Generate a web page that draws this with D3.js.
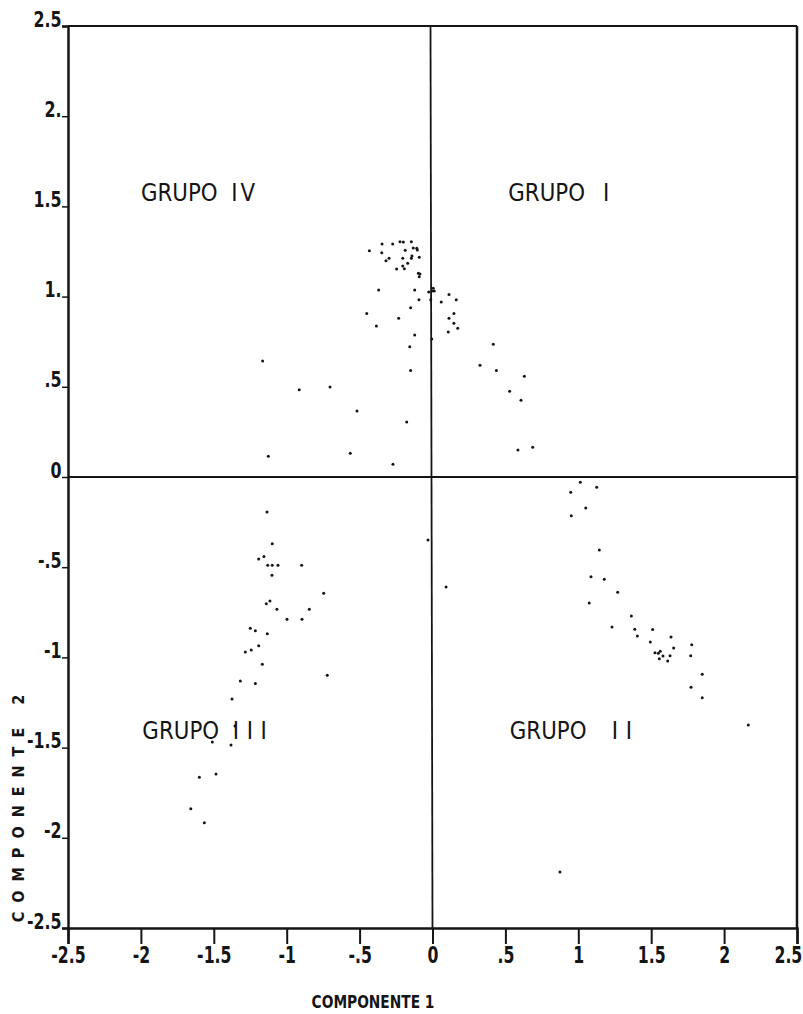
<!DOCTYPE html>
<html><head><meta charset="utf-8">
<script src="https://cdn.jsdelivr.net/npm/d3@7"></script>
<style>body{margin:0;background:#fff}svg{display:block}</style>
</head><body><svg id="c" width="803" height="1014"></svg>
<script>
// Component scores (Componente 1, Componente 2) by quadrant group
const grupoI = [
 [0.005,1.046],[0.012,1.031],[0.060,0.970],[0.113,1.011],[0.163,0.983],[0.147,0.907],
 [0.113,0.880],[0.147,0.852],[0.173,0.824],[0.108,0.804],[0.417,0.736],[0.326,0.619],
 [0.438,0.591],[0.630,0.558],[0.529,0.475],[0.607,0.425],[0.586,0.150],[0.687,0.165]
];
const grupoII = [
 [1.014,-0.029],[1.126,-0.057],[0.948,-0.085],[1.051,-0.172],[0.952,-0.215],[1.144,-0.405],
 [1.087,-0.553],[1.178,-0.567],[1.270,-0.639],[1.075,-0.698],[1.364,-0.771],[1.231,-0.831],
 [1.387,-0.844],[1.405,-0.881],[1.510,-0.846],[1.494,-0.915],[1.636,-0.887],[1.654,-0.948],
 [1.526,-0.974],[1.549,-0.977],[1.562,-0.966],[1.556,-1.007],[1.581,-0.992],[1.613,-1.020],
 [1.629,-0.991],[1.778,-0.930],[1.771,-0.991],[1.850,-1.094],[1.773,-1.166],[1.850,-1.223],
 [2.166,-1.375],[0.874,-2.190],[0.093,-0.610]
];
const grupoIII = [
 [-0.031,-0.349],[-1.135,-0.194],[-1.099,-0.370],[-1.156,-0.440],[-1.192,-0.455],[-1.130,-0.489],
 [-1.099,-0.489],[-1.060,-0.489],[-0.897,-0.489],[-1.101,-0.545],[-0.746,-0.645],[-1.115,-0.687],
 [-1.140,-0.702],[-1.067,-0.733],[-0.845,-0.733],[-0.998,-0.789],[-0.895,-0.789],[-1.250,-0.839],
 [-1.215,-0.852],[-1.133,-0.869],[-1.192,-0.935],[-1.243,-0.959],[-1.284,-0.970],[-1.167,-1.038],
 [-0.722,-1.099],[-1.318,-1.131],[-1.215,-1.144],[-1.375,-1.231],[-1.355,-1.380],[-1.510,-1.469],
 [-1.382,-1.486],[-1.485,-1.646],[-1.599,-1.665],[-1.658,-1.839],[-1.565,-1.916]
];
const grupoIV = [
 [-0.433,1.254],[-0.346,1.292],[-0.348,1.243],[-0.273,1.292],[-0.223,1.304],[-0.200,1.303],
 [-0.145,1.304],[-0.187,1.257],[-0.132,1.269],[-0.108,1.268],[-0.104,1.258],[-0.298,1.212],
 [-0.319,1.199],[-0.204,1.212],[-0.145,1.212],[-0.141,1.225],[-0.091,1.218],[-0.170,1.185],
 [-0.204,1.170],[-0.193,1.155],[-0.246,1.153],[-0.097,1.129],[-0.091,1.110],[-0.086,1.125],
 [-0.005,1.031],[-0.026,1.025],[-0.369,1.037],[-0.122,1.037],[-0.093,0.983],[-0.012,0.983],
 [-0.451,0.907],[-0.150,0.938],[-0.232,0.880],[-0.385,0.837],[-0.122,0.787],[-0.005,0.765],
 [-0.156,0.722],[-0.150,0.591],[-0.703,0.499],[-0.518,0.366],[-1.165,0.643],[-0.914,0.484],
 [-0.177,0.305],[-1.126,0.115],[-0.564,0.131],[-0.271,0.070]
];
const tickValues = [-2.5,-2,-1.5,-1,-0.5,0,0.5,1,1.5,2,2.5];
const xTickLabels = ["-2.5","-2","-1.5","-1","-.5","0",".5","1","1.5","2","2.5"];
const yTickLabels = ["-2.5","-2","-1.5","-1","-.5","0",".5","1.","1.5","2.","2.5"];
const groupNames = [["GRUPO","I"],["GRUPO","II"],["GRUPO","III"],["GRUPO","IV"]];
const xTitle = "COMPONENTE 1";
const yTitle = "COMPONENTE 2";

const svg = d3.select("#c");
const x = d3.scaleLinear([-2.5,2.5],[68,797]);
const y = d3.scaleLinear([-2.5,2.5],[928,26]);
const ink = "#151515";
const tickFont = "'DejaVu Sans Condensed','DejaVu Sans',sans-serif";

// frame
svg.append("line").attr("x1",x(-2.5)).attr("x2",x(2.5)).attr("y1",y(2.5)).attr("y2",y(2.5))
  .attr("stroke",ink).attr("stroke-width",2.2);
svg.append("line").attr("x1",x(2.5)).attr("x2",x(2.5)).attr("y1",y(2.5)).attr("y2",y(-2.5))
  .attr("stroke",ink).attr("stroke-width",2.5);
// center lines
svg.append("line").attr("x1",x(0)-2).attr("x2",x(0)).attr("y1",y(2.5)).attr("y2",y(-2.5))
  .attr("stroke",ink).attr("stroke-width",1.8);
svg.append("line").attr("x1",x(-2.5)).attr("x2",x(2.5)).attr("y1",y(0)).attr("y2",y(0))
  .attr("stroke",ink).attr("stroke-width",1.8);

// x axis
const gx = svg.append("g").attr("transform",`translate(0,${y(-2.5)})`)
  .call(d3.axisBottom(x).tickValues(tickValues).tickFormat((d,i)=>xTickLabels[i]).tickSize(16).tickPadding(3));
gx.select(".domain").attr("stroke",ink).attr("stroke-width",2.5);
gx.selectAll(".tick line").attr("stroke",ink).attr("stroke-width",2);
gx.selectAll(".tick text").attr("fill",ink).attr("font-family",tickFont).attr("font-weight","bold")
  .attr("font-size",23).attr("transform","scale(0.76,1)");
gx.selectAll(".tick text").filter(d=>d===2.5).attr("dx",-12);

// y axis
const gy = svg.append("g").attr("transform",`translate(${x(-2.5)},0)`)
  .call(d3.axisLeft(y).tickValues(tickValues).tickFormat((d,i)=>yTickLabels[i]).tickSize(6).tickPadding(2));
gy.select(".domain").attr("stroke",ink).attr("stroke-width",2.5);
gy.selectAll(".tick line").attr("stroke",ink).attr("stroke-width",1.5);
gy.selectAll(".tick text").attr("fill",ink).attr("font-family",tickFont).attr("font-weight","bold")
  .attr("font-size",22).attr("dy","0").attr("transform","scale(0.8,1)");

// points
const all = [grupoI,grupoII,grupoIII,grupoIV];
svg.append("g").selectAll("g").data(all).join("g")
  .selectAll("circle").data(d=>d).join("circle")
  .attr("cx",d=>x(d[0])).attr("cy",d=>y(d[1])).attr("r",1.5).attr("fill",ink);

// group labels
const labelPos = [[0.52,1.53,1.17,8],[0.53,-1.45,1.23,8],[-1.99,-1.45,-1.37,8],[-2.0,1.53,-1.38,3]];
const gl = svg.append("g").attr("fill",ink).attr("font-family","'DejaVu Sans Condensed','DejaVu Sans',sans-serif")
  .attr("font-size",25);
groupNames.forEach((n,i)=>{
  const p = labelPos[i];
  gl.append("text").attr("transform",`translate(${x(p[0])},${y(p[1])}) scale(0.95,1)`).text(n[0]);
  gl.append("text").attr("transform",`translate(${x(p[2])},${y(p[1])}) scale(0.95,1)`)
    .attr("letter-spacing",p[3]).text(n[1]);
});

// axis titles
svg.append("text").attr("transform","translate(373,1008) scale(0.85,1)").attr("text-anchor","middle")
  .attr("font-family",tickFont).attr("font-weight","bold").attr("font-size",18)
  .attr("fill",ink).text(xTitle);
svg.append("text").attr("transform","translate(24,804) rotate(-90)").attr("text-anchor","middle")
  .attr("font-family",tickFont).attr("font-weight","bold").attr("font-size",16)
  .attr("letter-spacing",9).attr("fill",ink).text(yTitle);
</script></body></html>
